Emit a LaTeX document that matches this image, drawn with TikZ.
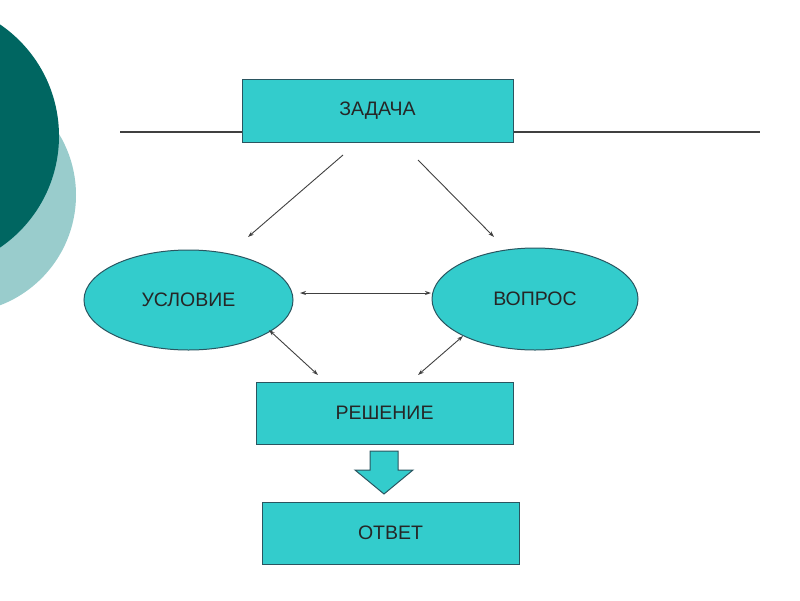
\documentclass[tikz,border=0pt]{standalone}
\usepackage{fontspec}
\setmainfont{Liberation Sans}
\usetikzlibrary{arrows.meta,shapes.geometric}
\definecolor{darkteal}{HTML}{006661}
\definecolor{lightteal}{HTML}{99CCCC}
\definecolor{boxfill}{HTML}{33CCCC}
\definecolor{boxline}{HTML}{2A5560}
\definecolor{conn}{HTML}{404040}
\tikzset{
  lbl/.style={font=\fontsize{19.5}{22}\selectfont, text=black!85},
  rectbox/.style={draw=boxline, line width=1pt, fill=boxfill, rectangle, inner sep=0pt, lbl},
  ellbox/.style={draw=boxline, line width=1pt, fill=boxfill, ellipse, inner sep=0pt, lbl},
  conarrow/.style={draw=conn, line width=0.9pt, -{Stealth[length=6pt,width=4pt]}},
  dblarrow/.style={draw=conn, line width=0.9pt, {Stealth[length=6pt,width=4pt]}-{Stealth[length=6pt,width=4pt]}},
}
\begin{document}
\begin{tikzpicture}[x=1pt,y=-1pt]
\useasboundingbox (0,0) rectangle (800,600);
% decorative circles
\fill[lightteal] (-42,195) circle (118);
\fill[darkteal] (-76,136) circle (135);
% horizontal line
\coordinate (hl) at (120,132);
\coordinate (hr) at (760,132);
\draw[conn, line width=1.1pt] (hl) -- (hr);
% nodes
\node[rectbox, minimum width=271pt, minimum height=63pt] (zad) at (377.5,110.5) {ЗАДАЧА};
\node[ellbox, minimum width=209pt, minimum height=100pt] (usl) at (188.5,300) {УСЛОВИЕ};
\node[ellbox, minimum width=206pt, minimum height=102pt] (vop) at (535,299) {ВОПРОС};
\node[rectbox, minimum width=257pt, minimum height=62pt] (res) at (384.5,413) {РЕШЕНИЕ};
\node[rectbox, minimum width=257pt, minimum height=62pt] (otv) at (390.5,533) {ОТВЕТ};
% arrow endpoints
\coordinate (a1s) at (343,155); \coordinate (a1e) at (248,237);
\coordinate (a2s) at (418,160); \coordinate (a2e) at (494,237);
\coordinate (a3s) at (300,293); \coordinate (a3e) at (431,293);
\coordinate (a4s) at (269,330); \coordinate (a4e) at (318,375);
\coordinate (a5s) at (463,336); \coordinate (a5e) at (418,375);
\draw[conarrow] (a1s) -- (a1e);
\draw[conarrow] (a2s) -- (a2e);
\draw[dblarrow] (a3s) -- (a3e);
\draw[dblarrow] (a4s) -- (a4e);
\draw[dblarrow] (a5s) -- (a5e);
% block arrow
\draw[draw=boxline, line width=1pt, fill=boxfill]
  (370,451) -- (398,451) -- (398,470) -- (413,470) -- (384,494) -- (355,470) -- (370,470) -- cycle;
\end{tikzpicture}
\end{document}
